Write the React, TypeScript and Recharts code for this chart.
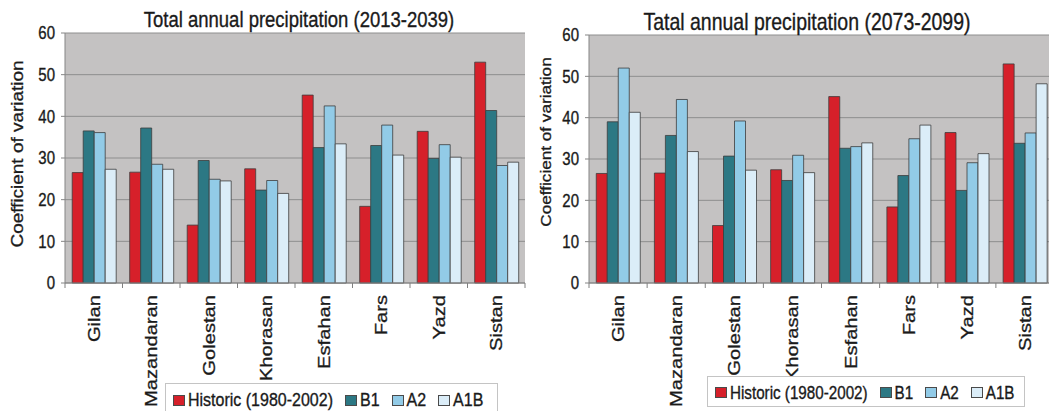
import React from 'react';
import { BarChart, Bar, XAxis, YAxis, CartesianGrid, Legend } from 'recharts';

const FONT = '"Liberation Sans", Arial, Helvetica, sans-serif';
const INK = '#1a1a1a';

const categories = ['Gilan', 'Mazandaran', 'Golestan', 'Khorasan', 'Esfahan', 'Fars', 'Yazd', 'Sistan'];
const seriesNames = ['Historic (1980-2002)', 'B1', 'A2', 'A1B'];
const seriesKeys = ['historic', 'b1', 'a2', 'a1b'];
const seriesColors = ['#d6202a', '#2c7884', '#92cbe7', '#dbedf8'];
const yTicks = [0, 10, 20, 30, 40, 50, 60];

const historic = [26.5, 26.6, 13.9, 27.4, 45.1, 18.4, 36.4, 53.0];

const b1Early = [36.5, 37.2, 29.4, 22.3, 32.5, 33.0, 29.9, 41.4];
const a2Early = [36.1, 28.5, 24.9, 24.6, 42.5, 37.9, 33.2, 28.2];
const a1bEarly = [27.3, 27.3, 24.5, 21.5, 33.4, 30.7, 30.2, 29.0];

const b1Late = [39.0, 35.7, 30.7, 24.8, 32.6, 26.0, 22.4, 33.8];
const a2Late = [52.0, 44.4, 39.2, 30.9, 33.0, 34.9, 29.1, 36.3];
const a1bLate = [41.3, 31.8, 27.3, 26.7, 33.9, 38.2, 31.3, 48.2];

const buildData = (b1: number[], a2: number[], a1b: number[]) =>
  categories.map((region, i) => ({ region, historic: historic[i], b1: b1[i], a2: a2[i], a1b: a1b[i] }));

const earlyData = buildData(b1Early, a2Early, a1bEarly);
const lateData = buildData(b1Late, a2Late, a1bLate);

const textStroke = { stroke: INK, strokeWidth: 0.3 };

const XTick = (props: any) => {
  const { x, y, payload, index, band, count } = props;
  return (
    <g>
      <line x1={x - band / 2} x2={x - band / 2} y1={y} y2={y + 5} stroke="#808080" />
      {index === count - 1 && <line x1={x + band / 2} x2={x + band / 2} y1={y} y2={y + 5} stroke="#808080" />}
      <text
        transform={`translate(${x},${y + 12}) rotate(-90) scale(1.2,1)`}
        textAnchor="end"
        dy="0.36em"
        fontSize={16.8}
        fill={INK}
        {...textStroke}
        fontFamily={FONT}
      >
        {payload.value}
      </text>
    </g>
  );
};

const YTick = (props: any) => {
  const { x, y, payload } = props;
  return (
    <text
      transform={`translate(${x},${y}) scale(1,1.2)`}
      textAnchor="end"
      dy="0.36em"
      fontSize={15}
      fill={INK}
      {...textStroke}
      fontFamily={FONT}
    >
      {payload.value}
    </text>
  );
};

const LegendBox = (props: any) => {
  const { fontSize, height, padTop } = props;
  return (
    <div
      style={{
        boxSizing: 'border-box',
        width: '100%',
        height,
        border: '1px solid #c4c4c4',
        background: '#ffffff',
        display: 'flex',
        alignItems: 'center',
        paddingLeft: 7,
        paddingTop: padTop,
        fontFamily: FONT,
        fontSize,
        color: INK,
        whiteSpace: 'nowrap',
        WebkitTextStroke: '0.3px ' + INK,
      }}
    >
      {seriesNames.map((name, i) => (
        <div key={name} style={{ display: 'flex', alignItems: 'center', marginRight: 12 }}>
          <span
            style={{
              display: 'inline-block',
              boxSizing: 'border-box',
              width: 12,
              height: 11,
              background: seriesColors[i],
              border: '1px solid #4a4a4a',
              marginRight: 3,
            }}
          />
          <span style={{ display: 'inline-block', transform: 'scaleY(1.2)', lineHeight: 1 }}>{name}</span>
        </div>
      ))}
    </div>
  );
};

const PrecipChart = (props: any) => {
  const {
    data, width, marginTop, marginRight, yAxisWidth, band,
    labelX, labelY, labelSize, legendLeft, legendTop, legendWidth, legendHeight, legendFont, legendPadTop,
  } = props;
  return (
    <BarChart
      width={width}
      height={411}
      data={data}
      margin={{ top: marginTop, right: marginRight, bottom: 0, left: 0 }}
      barCategoryGap="12.5%"
      barGap={0}
    >
      <CartesianGrid vertical={false} stroke="#8e8e8e" fill="#c4c2c2" fillOpacity={1} />
      <XAxis
        dataKey="region"
        height={128}
        interval={0}
        tickSize={0}
        tickMargin={0}
        tickLine={false}
        axisLine={{ stroke: '#858585' }}
        tick={(p: any) => <XTick {...p} band={band} count={categories.length} />}
      />
      <YAxis
        width={yAxisWidth}
        domain={[0, 60]}
        ticks={yTicks}
        interval={0}
        tickSize={4}
        tickMargin={6}
        tickLine={{ stroke: '#858585' }}
        axisLine={{ stroke: '#858585' }}
        tick={<YTick />}
        label={{
          content: () => (
            <text
              transform={`translate(${labelX},${labelY}) rotate(-90) scale(1.2,1)`}
              textAnchor="middle"
              fontSize={labelSize}
              fill={INK}
              {...textStroke}
              fontFamily={FONT}
            >
              Coefficient of variation
            </text>
          ),
        }}
      />
      <YAxis
        yAxisId="border"
        orientation="right"
        width={0}
        tick={false}
        tickLine={false}
        axisLine={{ stroke: '#a8a8a8' }}
      />
      <Legend
        layout="horizontal"
        verticalAlign="middle"
        align="center"
        wrapperStyle={{ left: legendLeft, top: legendTop, width: legendWidth, height: legendHeight }}
        content={() => <LegendBox fontSize={legendFont} height={legendHeight} padTop={legendPadTop} />}
      />
      {seriesKeys.map((k, i) => (
        <Bar
          key={k}
          dataKey={k}
          name={seriesNames[i]}
          fill={seriesColors[i]}
          stroke="#3c3c3c"
          strokeWidth={0.8}
          isAnimationActive={false}
        />
      ))}
    </BarChart>
  );
};

export default function App() {
  return (
    <div
      style={{
        position: 'absolute',
        left: 0,
        top: 0,
        width: 1049,
        height: 411,
        overflow: 'hidden',
        background: '#ffffff',
        fontFamily: FONT,
      }}
    >
      <div style={{ position: 'absolute', left: 0, top: 0 }}>
        <PrecipChart
          data={earlyData}
          width={527}
          marginTop={33}
          marginRight={2}
          yAxisWidth={65}
          band={57.5}
          labelX={23}
          labelY={154}
          labelSize={15.8}
          legendLeft={165}
          legendTop={383}
          legendWidth={333}
          legendHeight={34}
          legendFont={16}
          legendPadTop={0}
        />
      </div>
      <div style={{ position: 'absolute', left: 525, top: 0 }}>
        <PrecipChart
          data={lateData}
          width={530}
          marginTop={35}
          marginRight={1}
          yAxisWidth={64}
          band={58.1}
          labelX={26}
          labelY={142}
          labelSize={14.3}
          legendLeft={182}
          legendTop={376}
          legendWidth={318}
          legendHeight={31}
          legendFont={15.2}
          legendPadTop={3}
        />
      </div>
      <svg width={1049} height={40} style={{ position: 'absolute', left: 0, top: 0, pointerEvents: 'none' }}>
        <text
          transform="translate(299,27) scale(1,1.2)"
          textAnchor="middle"
          fontSize={18.5}
          fill={INK}
          {...textStroke}
          fontFamily={FONT}
        >
          Total annual precipitation (2013-2039)
        </text>
        <text
          transform="translate(807,30) scale(1,1.2)"
          textAnchor="middle"
          fontSize={19.5}
          fill={INK}
          {...textStroke}
          fontFamily={FONT}
        >
          Tatal annual precipitation (2073-2099)
        </text>
      </svg>
    </div>
  );
}
